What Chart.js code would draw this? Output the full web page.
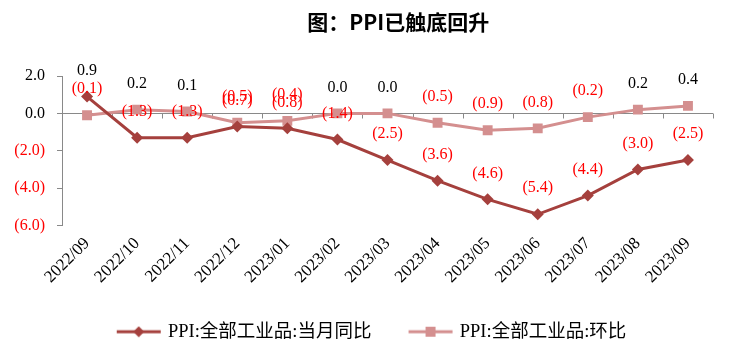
<!DOCTYPE html>
<html>
<head>
<meta charset="utf-8">
<script src="https://cdn.jsdelivr.net/npm/chart.js@4/dist/chart.umd.min.js"></script>
<style>html,body{margin:0;padding:0;background:#fff}</style>
</head>
<body>
<canvas id="chart-ppi" width="736" height="355"></canvas>
<script>
const months = ['2022/09', '2022/10', '2022/11', '2022/12', '2023/01', '2023/02', '2023/03',
  '2023/04', '2023/05', '2023/06', '2023/07', '2023/08', '2023/09'];
const ppiYoy = [0.9, -1.3, -1.3, -0.7, -0.8, -1.4, -2.5, -3.6, -4.6, -5.4, -4.4, -3.0, -2.5];
const ppiMom = [-0.1, 0.2, 0.1, -0.5, -0.4, 0.0, 0.0, -0.5, -0.9, -0.8, -0.2, 0.2, 0.4];
const yTicks = [2, 0, -2, -4, -6];
const chartTitle = '图：PPI已触底回升';

const yoyColor = '#A5403D';
const momColor = '#D48F8F';
const axisGray = '#898989';
const serif = '"Liberation Serif", "Noto Sans CJK SC", serif';

// negatives in red with brackets, like the excel number format
const fmt = v => v < 0 ? `(${Math.abs(v).toFixed(1)})` : v.toFixed(1);
const tone = v => v < 0 ? '#FF0000' : '#000000';

// legend swatch: line with the marker in the middle (wider than the box on purpose)
const legendIcon = (color, shape) => {
  const c = document.createElement('canvas');
  c.width = 50;
  c.height = 12;
  const g = c.getContext('2d');
  g.strokeStyle = color;
  g.lineWidth = 3;
  g.beginPath();
  g.moveTo(3, 6);
  g.lineTo(47, 6);
  g.stroke();
  g.fillStyle = color;
  if (shape === 'diamond') {
    g.beginPath();
    g.moveTo(25, 0.5);
    g.lineTo(30.5, 6);
    g.lineTo(25, 11.5);
    g.lineTo(19.5, 6);
    g.closePath();
    g.fill();
  } else {
    g.fillRect(20, 1, 10, 10);
  }
  return c;
};

const titleText = {
  id: 'titleText',
  afterDraw(chart) {
    const { ctx } = chart;
    ctx.save();
    ctx.font = 'bold 21px "Noto Sans CJK SC", sans-serif';
    ctx.fillStyle = '#000';
    ctx.textAlign = 'center';
    ctx.textBaseline = 'middle';
    ctx.fillText(chartTitle, chart.width * 0.541, 22);
    ctx.restore();
  }
};

// the legend sits a little right of the canvas centre in the original
const legendShift = {
  id: 'legendShift',
  afterLayout(chart) {
    chart.legend.left += 16;
    chart.legend.right += 16;
  }
};

const valueLabels = {
  id: 'valueLabels',
  afterDatasetsDraw(chart) {
    const { ctx } = chart;
    ctx.save();
    ctx.font = `16px ${serif}`;
    ctx.textAlign = 'center';
    ctx.textBaseline = 'middle';
    chart.data.datasets.forEach((ds, i) => {
      chart.getDatasetMeta(i).data.forEach((pt, j) => {
        const v = ds.data[j];
        ctx.fillStyle = tone(v);
        ctx.fillText(fmt(v), pt.x, pt.y - 26);
      });
    });
    ctx.restore();
  }
};

// small tick marks hanging under the zero line, between categories
const zeroTicks = {
  id: 'zeroTicks',
  beforeDatasetsDraw(chart) {
    const { ctx, scales: { x, y } } = chart;
    const y0 = Math.round(y.getPixelForValue(0)) + 0.5;
    ctx.save();
    ctx.strokeStyle = axisGray;
    ctx.lineWidth = 1;
    ctx.beginPath();
    for (let i = 0; i < months.length; i++) {
      const px = Math.round(x.getPixelForValue(i + 0.5)) + 0.5;
      ctx.moveTo(px, y0);
      ctx.lineTo(px, y0 + 5);
    }
    ctx.stroke();
    ctx.restore();
  }
};

const ppi = document.getElementById('chart-ppi');
new Chart(ppi, {
  type: 'line',
  data: {
    labels: months,
    datasets: [
      {
        label: 'PPI:全部工业品:当月同比',
        data: ppiYoy,
        borderColor: yoyColor,
        backgroundColor: yoyColor,
        borderWidth: 3,
        pointStyle: 'rectRot',
        pointRadius: 6,
        pointBorderWidth: 0,
        pointBackgroundColor: yoyColor,
        legendIcon: legendIcon(yoyColor, 'diamond')
      },
      {
        label: 'PPI:全部工业品:环比',
        data: ppiMom,
        borderColor: momColor,
        backgroundColor: momColor,
        borderWidth: 3,
        pointStyle: 'rect',
        pointRadius: 7,
        pointBorderWidth: 0,
        pointBackgroundColor: momColor,
        legendIcon: legendIcon(momColor, 'square')
      }
    ]
  },
  options: {
    responsive: false,
    animation: false,
    layout: { padding: { left: 0, right: 23, top: 76, bottom: 4 } },
    plugins: {
      tooltip: { enabled: false },
      title: { display: false },
      legend: {
        position: 'bottom',
        labels: {
          usePointStyle: true,
          pointStyleWidth: 40,
          color: '#000',
          font: { family: serif, size: 18.5 },
          padding: 39,
          generateLabels: chart => chart.data.datasets.map((ds, i) => ({
            text: ds.label,
            pointStyle: ds.legendIcon,
            fillStyle: ds.borderColor,
            strokeStyle: ds.borderColor,
            lineWidth: 0,
            datasetIndex: i,
            fontColor: '#000'
          }))
        }
      }
    },
    scales: {
      x: {
        offset: true,
        grid: { display: false, drawTicks: false },
        border: { display: false },
        ticks: {
          color: '#000',
          font: { family: serif, size: 17 },
          minRotation: 45,
          maxRotation: 45,
          autoSkip: false,
          padding: 8
        },
        afterFit: s => { s.height = 58; }
      },
      y: {
        min: -6,
        max: 2,
        afterBuildTicks: s => { s.ticks = yTicks.map(v => ({ value: v })); },
        afterFit: s => { s.width = 62; },
        grid: {
          color: c => c.tick && c.tick.value === 0 ? axisGray : 'rgba(0,0,0,0)',
          tickColor: axisGray,
          tickLength: 5,
          lineWidth: 1
        },
        border: { display: true, color: axisGray, width: 1 },
        ticks: {
          color: c => tone(c.tick.value),
          font: { family: serif, size: 16 },
          padding: 12,
          callback: v => fmt(v)
        }
      }
    }
  },
  plugins: [zeroTicks, valueLabels, titleText, legendShift]
});
</script>
</body>
</html>
